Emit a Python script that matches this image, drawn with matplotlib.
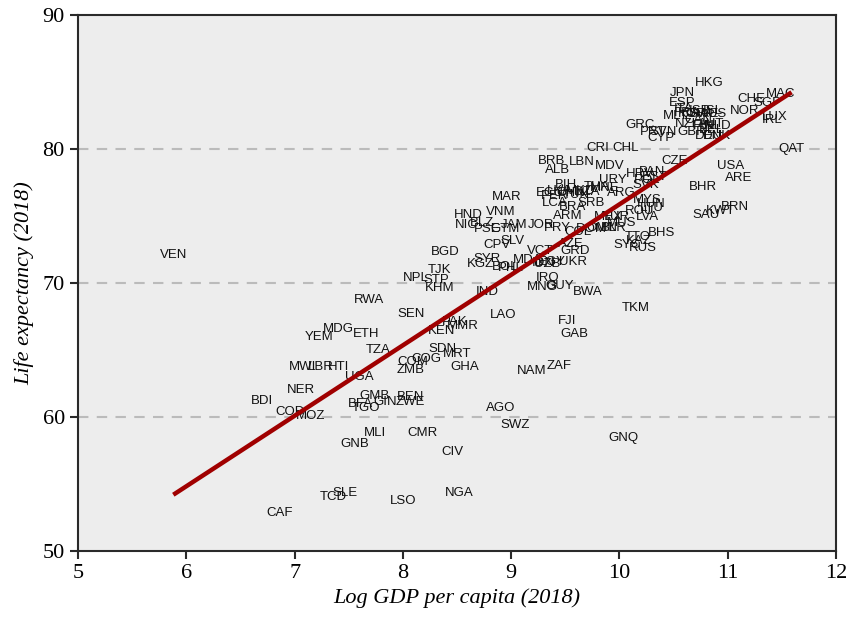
import numpy as np
import matplotlib
matplotlib.use("Agg")
import matplotlib.pyplot as plt

# country codes, log GDP per capita and life expectancy (2018)
codes = ["HKG", "JPN", "ESP", "CHE", "MAC", "SGP", "NOR", "IRL", "LUX", "ISL",
         "ITA", "MLT", "NZL", "GRC", "PRT", "SVN", "CYP", "GBR", "DEU", "DNK",
         "BEL", "FIN", "NLD", "AUT", "CAN", "AUS", "SWE", "KOR", "FRA", "ISR",
         "QAT", "CRI", "CHL", "BRB", "ALB", "LBN", "MDV", "URY", "HRV", "PAN",
         "POL", "EST", "SVK", "CZE", "USA", "ARE", "BHR", "BRN", "KWT", "SAU",
         "MAR", "HND", "VNM", "NIC", "BLZ", "PSE", "GTM", "JAM", "JOR", "PRY",
         "ARM", "BRA", "LCA", "SRB", "MNE", "ARG", "MKD", "BIH", "THA", "ECU",
         "PER", "LKA", "CHN", "TUN", "DZA", "MYS", "HUN", "ROU", "LTU", "LVA",
         "MEX", "TUR", "BLR", "MUS", "OMN", "DOM", "COL", "BHS", "TTO", "SYC",
         "KAZ", "RUS", "CPV", "SLV", "BGD", "SYR", "KGZ", "BOL", "PHL", "MDA",
         "VCT", "AZE", "GRD", "IDN", "EGY", "UZB", "UKR", "IRQ", "MNG", "GUY",
         "BWA", "TJK", "NPL", "STP", "KHM", "IND", "LAO", "TKM", "FJI", "GAB",
         "RWA", "SEN", "PAK", "MMR", "KEN", "MDG", "ETH", "YEM", "TZA", "SDN",
         "MRT", "COG", "COM", "ZMB", "GHA", "NAM", "ZAF", "MWI", "LBR", "HTI",
         "UGA", "NER", "BDI", "COD", "MOZ", "GMB", "BFA", "GIN", "TGO", "BEN",
         "ZWE", "AGO", "SWZ", "GNQ", "MLI", "CMR", "GNB", "CIV", "NGA", "SLE",
         "TCD", "LSO", "CAF", "VEN"]

log_gdp = [10.83, 10.58, 10.58, 11.22, 11.49, 11.37, 11.16, 11.41, 11.43, 10.86,
           10.59, 10.52, 10.63, 10.19, 10.31, 10.40, 10.38, 10.67, 10.83, 10.90,
           10.85, 10.78, 10.91, 10.85, 10.73, 10.87, 10.78, 10.67, 10.63, 10.74,
           11.59, 9.80, 10.06, 9.37, 9.43, 9.65, 9.91, 9.94, 10.19, 10.30,
           10.26, 10.33, 10.24, 10.51, 11.03, 11.10, 10.77, 11.07, 10.93, 10.80,
           8.96, 8.60, 8.90, 8.59, 8.73, 8.78, 8.94, 9.03, 9.28, 9.43,
           9.52, 9.57, 9.40, 9.74, 9.86, 10.02, 9.64, 9.51, 9.79, 9.36,
           9.40, 9.45, 9.55, 9.60, 9.70, 10.26, 10.29, 10.19, 10.30, 10.26,
           9.90, 9.97, 9.95, 10.02, 9.84, 9.74, 9.62, 10.39, 10.17, 10.07,
           10.18, 10.22, 8.87, 9.01, 8.39, 8.78, 8.72, 8.94, 9.00, 9.15,
           9.27, 9.55, 9.59, 9.30, 9.38, 9.33, 9.57, 9.34, 9.29, 9.45,
           9.71, 8.34, 8.12, 8.31, 8.34, 8.78, 8.93, 10.15, 9.52, 9.58,
           7.69, 8.08, 8.48, 8.55, 8.36, 7.40, 7.66, 7.23, 7.77, 8.37,
           8.50, 8.22, 8.09, 8.07, 8.57, 9.19, 9.44, 7.07, 7.24, 7.41,
           7.60, 7.06, 6.70, 6.96, 7.15, 7.74, 7.61, 7.84, 7.66, 8.07,
           8.07, 8.90, 9.04, 10.04, 7.74, 8.18, 7.56, 8.46, 8.52, 7.47,
           7.36, 8.00, 6.86, 5.88]

life_exp = [84.9, 84.2, 83.4, 83.7, 84.1, 83.4, 82.8, 82.2, 82.4, 82.8,
            83.0, 82.5, 81.9, 81.8, 81.3, 81.3, 80.8, 81.3, 81.0, 81.0,
            81.4, 81.7, 81.7, 81.9, 82.2, 82.6, 82.6, 82.6, 82.7, 82.8,
            80.0, 80.1, 80.1, 79.1, 78.4, 79.0, 78.7, 77.7, 78.1, 78.3,
            77.7, 77.9, 77.3, 79.1, 78.7, 77.8, 77.2, 75.7, 75.4, 75.1,
            76.4, 75.1, 75.3, 74.3, 74.5, 74.0, 74.0, 74.3, 74.3, 74.1,
            75.0, 75.7, 76.0, 76.0, 77.1, 76.7, 76.9, 77.3, 77.2, 76.7,
            76.5, 76.9, 76.7, 76.6, 76.8, 76.2, 75.9, 75.4, 75.6, 74.9,
            74.9, 74.9, 74.1, 74.5, 74.1, 74.0, 73.8, 73.7, 73.4, 72.8,
            73.1, 72.6, 72.8, 73.1, 72.3, 71.8, 71.4, 71.2, 71.1, 71.7,
            72.4, 72.9, 72.4, 71.5, 71.6, 71.4, 71.6, 70.4, 69.7, 69.8,
            69.3, 71.0, 70.4, 70.2, 69.6, 69.3, 67.6, 68.1, 67.2, 66.2,
            68.7, 67.7, 67.1, 66.8, 66.4, 66.6, 66.2, 66.0, 65.0, 65.1,
            64.7, 64.3, 64.1, 63.5, 63.7, 63.4, 63.8, 63.7, 63.7, 63.7,
            63.0, 62.0, 61.2, 60.4, 60.1, 61.6, 61.0, 61.1, 60.7, 61.5,
            61.1, 60.7, 59.4, 58.4, 58.8, 58.8, 58.0, 57.4, 54.3, 54.3,
            54.0, 53.7, 52.8, 72.1]

# linear fit shown on the chart
fit_slope = 5.26
fit_intercept = 23.27

fig = plt.figure(figsize=(8.5, 6.18), dpi=100)
ax = fig.add_axes([0.0918, 0.1084, 0.8917, 0.8673])
ax.set_facecolor("#EDEDED")

for code, gx, ly in zip(codes, log_gdp, life_exp):
    ax.text(gx, ly, code, ha="center", va="center", fontsize=9.5,
            family="Liberation Sans", color="#111111")

xs = np.array([min(log_gdp), max(log_gdp)])
ax.plot(xs, fit_intercept + fit_slope * xs, color="#A00000", lw=3.2,
        solid_capstyle="butt", zorder=3)

ax.set_xlim(5, 12)
ax.set_ylim(50, 90)
ax.set_xticks(range(5, 13))
ax.set_yticks(range(50, 91, 10))
for yv in [60, 70, 80]:
    ax.axhline(yv, color="#BBBBBB", lw=1.5, ls=(0, (5, 4)), zorder=0)

for s in ax.spines.values():
    s.set_color("#2a2a2a")
    s.set_linewidth(1.5)
ax.tick_params(direction="out", length=6, width=1.5, color="#2a2a2a",
               labelsize=16)
for lab in ax.get_xticklabels() + ax.get_yticklabels():
    lab.set_family("Liberation Serif")

ax.set_xlabel("Log GDP per capita (2018)", fontsize=16, style="italic",
              family="Liberation Serif", labelpad=4)
ax.set_ylabel("Life expectancy (2018)", fontsize=16, style="italic",
              family="Liberation Serif", labelpad=6)

fig.savefig("out.png", dpi=100)
